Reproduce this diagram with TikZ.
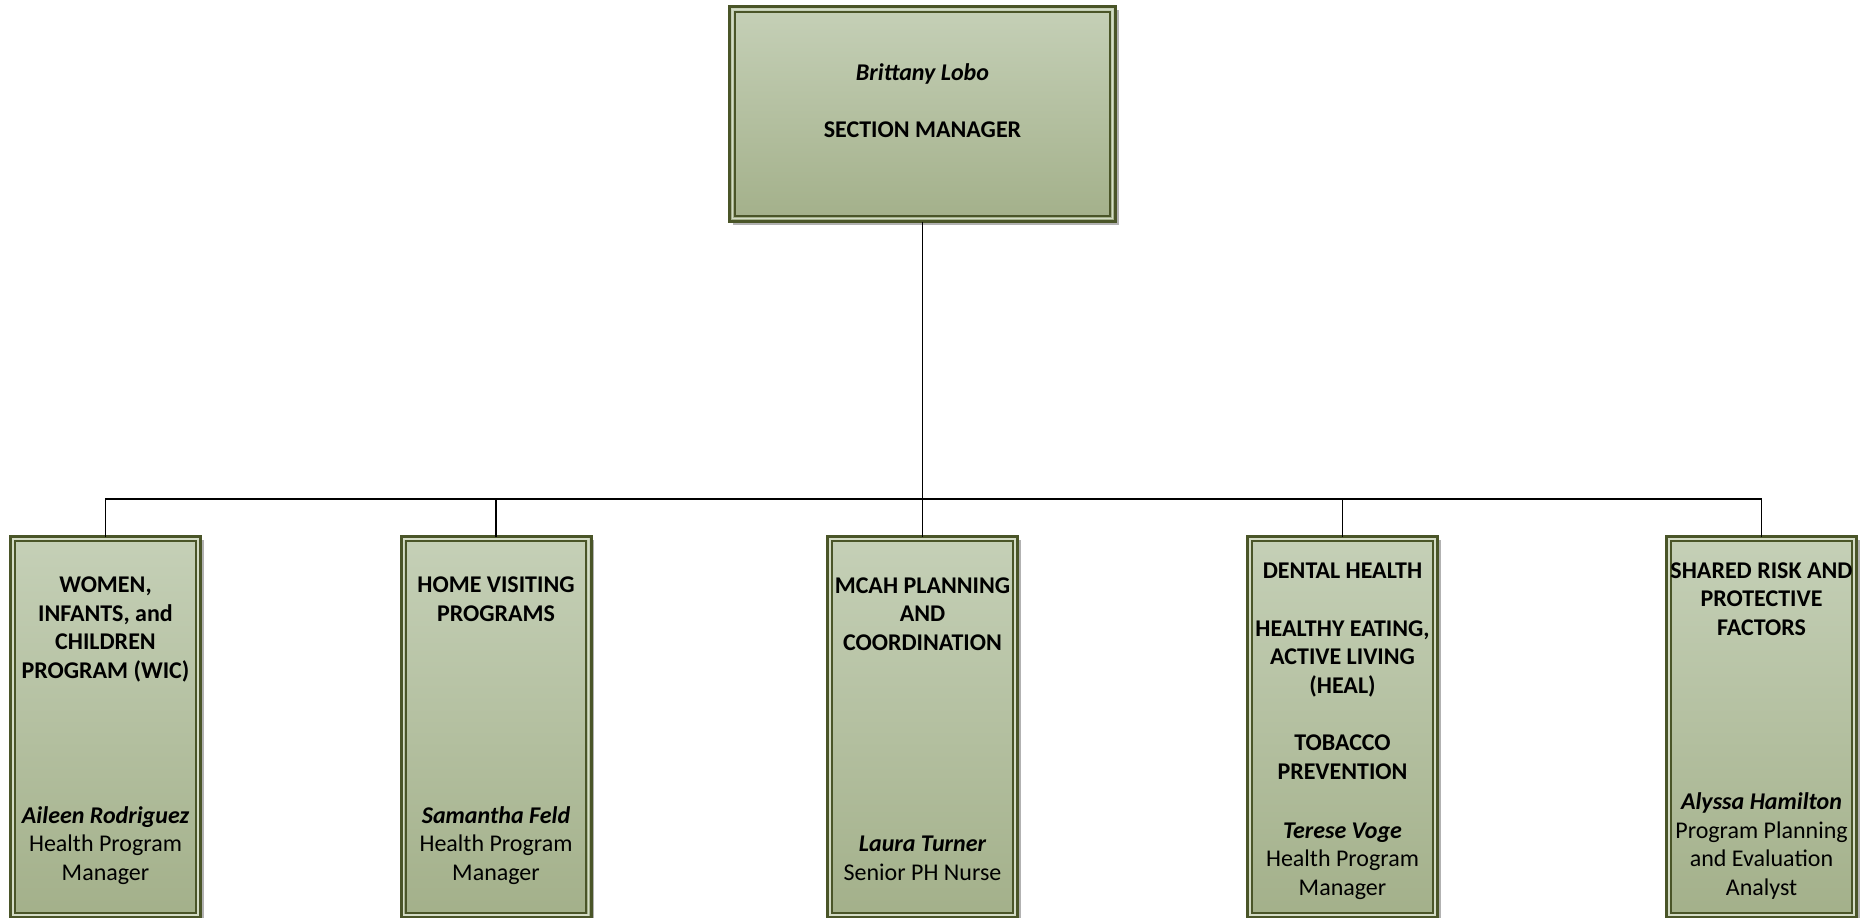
\documentclass[tikz,border=0pt]{standalone}
\usepackage{fontspec}
\setmainfont{Carlito}
\usetikzlibrary{shadows}
\definecolor{boxtop}{RGB}{197,208,183}
\definecolor{boxbot}{RGB}{163,176,138}
\definecolor{edgedark}{RGB}{74,85,40}
\definecolor{edgelight}{RGB}{212,220,198}
\tikzset{
  orgbox/.style={rectangle, inner sep=0pt, outer sep=0pt, top color=boxtop, bottom color=boxbot,
    draw=edgedark, line width=3pt,
    drop shadow={shadow xshift=3pt, shadow yshift=-3pt, fill=black, opacity=0.3}},
  lightline/.style={draw=edgelight, line width=1.4pt},
  innerline/.style={draw=edgedark, line width=1.8pt},
  conn/.style={draw=black, line width=1.8pt},
  headtxt/.style={align=center, inner sep=0pt, anchor=base, text=black,
    font=\fontsize{24}{28.7}\selectfont\bfseries},
  persontxt/.style={align=center, inner sep=0pt, anchor=base, text=black,
    font=\fontsize{24}{28.7}\selectfont},
}
\begin{document}
\begin{tikzpicture}[x=1pt,y=-1pt]
\useasboundingbox (0,0) rectangle (1864,918);
\clip (0,0) rectangle (1864,918);
\fill[white] (0,0) rectangle (1864,918);

% boxes
\node[orgbox, minimum width=386pt, minimum height=215pt, line width=3.5pt] (top) at (922.5,114) {};
\node[orgbox, minimum width=190pt, minimum height=381pt] (b1) at (105.5,727) {};
\node[orgbox, minimum width=190pt, minimum height=381pt] (b2) at (496,727) {};
\node[orgbox, minimum width=190pt, minimum height=381pt] (b3) at (922.5,727) {};
\node[orgbox, minimum width=190pt, minimum height=381pt] (b4) at (1342.5,727) {};
\node[orgbox, minimum width=190pt, minimum height=381pt] (b5) at (1761.5,727) {};

% connectors
\coordinate (bus) at (922.5,499);
\draw[conn] (top.south) -- (b3.north);
\draw[conn] (b1.north) |- (bus) -| (b5.north);
\draw[conn] (b2.north) -- (b2.north |- bus);
\draw[conn] (b4.north) -- (b4.north |- bus);

% double borders
\draw[lightline] ([shift={(3,3)}]top.north west) rectangle ([shift={(-3,-3)}]top.south east);
\draw[innerline] ([shift={(5.5,5.5)}]top.north west) rectangle ([shift={(-5.5,-5.5)}]top.south east);
\foreach \b in {b1,b2,b3,b4,b5}{
  \draw[lightline] ([shift={(2.6,2.6)}]\b.north west) rectangle ([shift={(-2.6,-2.6)}]\b.south east);
  \draw[innerline] ([shift={(4.8,4.8)}]\b.north west) rectangle ([shift={(-4.8,-4.8)}]\b.south east);
}

% texts (base anchor = baseline of the last line)
\node[headtxt] (t0) at (922.5,137.6) {\itshape Brittany Lobo\\[28.7pt]SECTION MANAGER};

\node[headtxt] (h1) at (105.5,678.6) {WOMEN,\\INFANTS, and\\CHILDREN\\PROGRAM (WIC)};
\node[persontxt] (p1) at (105.5,880.6) {{\bfseries\itshape Aileen Rodriguez}\\Health Program\\Manager};

\node[headtxt] (h2) at (496,621.6) {HOME VISITING\\PROGRAMS};
\node[persontxt] (p2) at (496,880.6) {{\bfseries\itshape Samantha Feld}\\Health Program\\Manager};

\node[headtxt] (h3) at (922.5,650.6) {MCAH PLANNING\\AND\\COORDINATION};
\node[persontxt] (p3) at (922.5,880.6) {{\bfseries\itshape Laura Turner}\\Senior PH Nurse};

\node[headtxt] (h4) at (1342.5,779.6) {DENTAL HEALTH\\[28.7pt]HEALTHY EATING,\\ACTIVE LIVING\\(HEAL)\\[28.7pt]TOBACCO\\PREVENTION};
\node[persontxt] (p4) at (1342.5,895.6) {{\bfseries\itshape Terese Voge}\\Health Program\\Manager};

\node[headtxt] (h5) at (1761.5,635.6) {SHARED RISK AND\\PROTECTIVE\\FACTORS};
\node[persontxt] (p5) at (1761.5,895.6) {{\bfseries\itshape Alyssa Hamilton}\\Program Planning\\and Evaluation\\Analyst};
\end{tikzpicture}
\end{document}
